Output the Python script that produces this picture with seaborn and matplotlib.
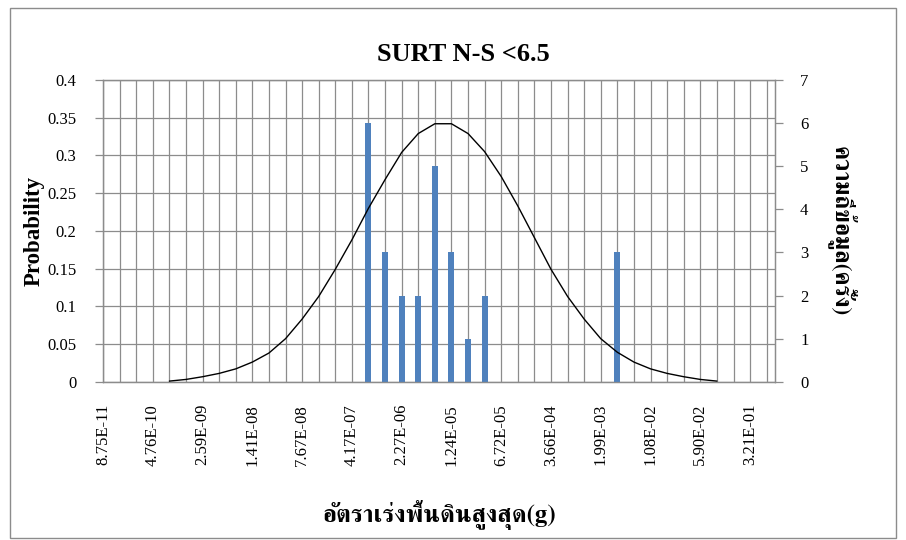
import numpy as np
import pandas as pd
import matplotlib
matplotlib.use("Agg")
import matplotlib.pyplot as plt
from matplotlib import font_manager
from matplotlib.ft2font import FT2Font
from matplotlib.patches import Rectangle
from matplotlib.ticker import (MultipleLocator, FixedLocator, FixedFormatter,
                               NullFormatter, FuncFormatter)
import seaborn as sns

# Log-spaced bins of peak ground acceleration (g); every third bin carries a label
bin_index = list(range(41))
label_step = 3
bin_labels = ["8.75E-11", "4.76E-10", "2.59E-09", "1.41E-08", "7.67E-08",
              "4.17E-07", "2.27E-06", "1.24E-05", "6.72E-05", "3.66E-04",
              "1.99E-03", "1.08E-02", "5.90E-02", "3.21E-01"]

# Number of records in each bin (right axis)
counts = [0, 0, 0, 0, 0, 0, 0, 0, 0, 0,
          0, 0, 0, 0, 0, 0, 6, 3, 2, 2,
          5, 3, 1, 2, 0, 0, 0, 0, 0, 0,
          0, 3, 0, 0, 0, 0, 0, 0, 0, 0,
          0]

# Fitted probability for each bin (left axis)
probability = [np.nan, np.nan, np.nan, np.nan, 0.0008, 0.003, 0.0066, 0.011, 0.017, 0.026,
               0.038, 0.057, 0.083, 0.113, 0.149, 0.188, 0.230, 0.268, 0.304, 0.329,
               0.342, 0.342, 0.329, 0.305, 0.272, 0.233, 0.191, 0.149, 0.113, 0.083,
               0.057, 0.039, 0.026, 0.017, 0.011, 0.0066, 0.003, 0.0008, np.nan, np.nan,
               np.nan]

title = "SURT N-S <6.5"
xlabel = "อัตราเร่งพื้นดินสูงสุด(g)"
ylabel_left = "Probability"
ylabel_right = "ความถี่ข้อมูล(ครั้ง)"


def thai_family():
    """Return the name of an installed font that can draw Thai script."""
    found = []
    for entry in font_manager.fontManager.ttflist:
        try:
            cmap = FT2Font(entry.fname).get_charmap()
        except Exception:
            continue
        if 0x0E2D in cmap and 0x0E49 in cmap:
            found.append(entry.name)
    if not found:
        return None
    for key in ("Serif", "Norasi", "Tlwg Typo", "Loma", "Garuda"):
        for name in found:
            if key in name:
                return name
    return found[0]


sns.set_theme(style="white")
serif = ["Liberation Serif", "DejaVu Serif"]
plt.rcParams["font.family"] = serif
plt.rcParams["text.color"] = "black"
plt.rcParams["axes.labelcolor"] = "black"
plt.rcParams["xtick.labelcolor"] = "black"
plt.rcParams["ytick.labelcolor"] = "black"
th = thai_family()
thai_fam = ([th] if th else []) + serif

grid_col = "#8c8c8c"
bar_col = "#4F81BD"
tick_size = 12

fig = plt.figure(figsize=(9.06, 5.40), dpi=100)
fig.patch.set_facecolor("white")
W, H = 906, 540
x0, x1, y_top, y_bot = 103, 775, 80, 381.7
ax = fig.add_axes([x0 / W, 1 - y_bot / H, (x1 - x0) / W, (y_bot - y_top) / H])

# Layers: grid on the base axes, bars on a count axis, fitted curve on top
ax_bar = ax.twinx()
ax_line = ax.twinx()

df_bar = pd.DataFrame({"bin": bin_index, "count": counts})
sns.barplot(data=df_bar, x="bin", y="count", ax=ax_bar, color=bar_col,
            saturation=1, width=0.36, linewidth=0, order=bin_index)

df_line = pd.DataFrame({"bin": bin_index, "p": probability}).dropna()
sns.lineplot(data=df_line, x="bin", y="p", ax=ax_line, color="black",
             linewidth=1.0, sort=True)

xlim = (0, len(bin_index) - 0.5)
for a in (ax, ax_bar, ax_line):
    a.set_xlim(*xlim)
p_max, p_step = 0.4, 0.05
ax.set_ylim(0, p_max)
ax_line.set_ylim(0, p_max)
ax_bar.set_ylim(0, 7)

# Count axis on the right
ax_bar.yaxis.set_major_locator(MultipleLocator(1))
ax_bar.tick_params(axis="y", length=6, width=0.9, color=grid_col, direction="out",
                   labelsize=tick_size, labelcolor="black", pad=12, right=True)
ax_bar.tick_params(axis="x", which="both", bottom=False, labelbottom=False)
ax_bar.set_xlabel("")
for s in ax_bar.spines.values():
    s.set_color(grid_col)
    s.set_linewidth(0.9)
ax_bar.patch.set_visible(False)

# Curve axis carries no decorations of its own
ax_line.set_axis_off()

# Base axes: probability scale, grid, category labels
ax.set_facecolor("white")
ax.yaxis.set_major_locator(FixedLocator(np.arange(0, p_max + 1e-9, p_step)))
ax.yaxis.set_major_formatter(FuncFormatter(lambda v, _: f"{round(v, 2):g}"))
label_pos = bin_index[::label_step]
ax.xaxis.set_major_locator(FixedLocator(label_pos))
ax.xaxis.set_major_formatter(FixedFormatter(bin_labels))
ax.xaxis.set_minor_locator(FixedLocator(bin_index))
ax.xaxis.set_minor_formatter(NullFormatter())
ax.grid(True, which="both", axis="x", color=grid_col, linewidth=0.9)
ax.grid(True, which="major", axis="y", color=grid_col, linewidth=0.9)
ax.tick_params(axis="x", which="both", length=0, pad=16, labelsize=tick_size,
               labelcolor="black", labelrotation=90, bottom=True, labelbottom=True)
ax.tick_params(axis="y", which="major", length=6, width=0.9, color=grid_col,
               direction="out", labelsize=tick_size, labelcolor="black", pad=13,
               left=True)
for s in ax.spines.values():
    s.set_color(grid_col)
    s.set_linewidth(0.9)

# Titles and axis labels
ax.set_title(title, fontsize=19, fontweight="bold", pad=14, color="black")
ax.title.set_x((463 - x0) / (x1 - x0))

ax.set_xlabel(xlabel, fontsize=18, fontweight="bold", family=thai_fam, color="black")
ax.xaxis.set_label_coords(0.5, (y_bot - 515) / (y_bot - y_top))
ax.xaxis.label.set_va("center")

ax.set_ylabel(ylabel_left, fontsize=16.5, fontweight="bold", color="black")
ax.yaxis.set_label_coords((34 - x0) / (x1 - x0), 0.5)
ax.yaxis.label.set_va("center")

ax_bar.set_ylabel(ylabel_right, fontsize=17, fontweight="bold", family=thai_fam,
                  rotation=270, color="black")
ax_bar.yaxis.set_label_coords((842 - x0) / (x1 - x0), 0.5)
ax_bar.yaxis.label.set_va("center")
ax_bar.yaxis.label.set_ha("center")

# Chart-area frame
fig.patches.append(Rectangle((10 / W, 1 - 538 / H), (896 - 10) / W, (538 - 8) / H,
                             transform=fig.transFigure, fill=False,
                             edgecolor=grid_col, linewidth=1.0))

fig.savefig("out.png", dpi=100, facecolor="white")
